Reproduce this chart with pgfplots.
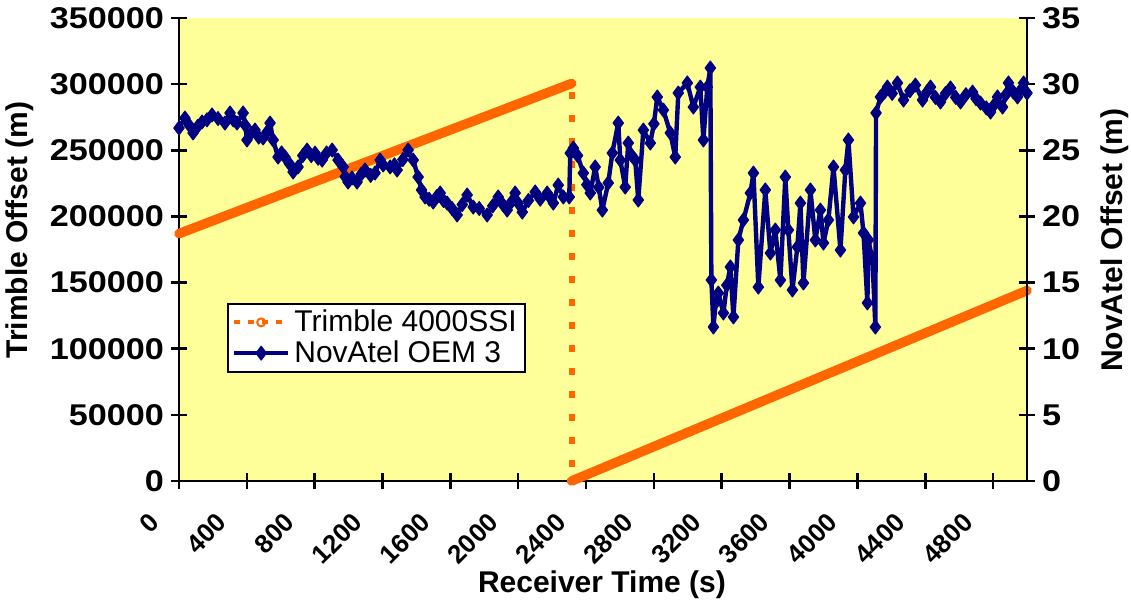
\documentclass[border=0pt]{standalone}
\usepackage{fontspec}
\setmainfont{Liberation Sans}
\newfontfamily\tickfont{Liberation Sans}[FakeStretch=1.14]
\usepackage{pgfplots}
\pgfplotsset{compat=1.18}
\definecolor{bgyellow}{RGB}{255,255,153}
\definecolor{trim}{RGB}{255,102,0}
\definecolor{nova}{RGB}{0,0,128}

\pgfplotstableread{
x y
0 26.68
35 27.44
60 26.9
83 26.31
110 26.8
136 27.14
165 27.3
195 27.67
230 27.4
271 27.06
301 27.82
320 27.3
342 27.06
378 27.82
390 26.9
401 25.78
425 26.3
448 26.53
470 26.0
496 25.93
520 26.4
537 27.06
555 25.78
584 24.49
605 24.8
625 24.49
650 24.0
673 23.36
702 23.74
730 24.6
755 25.02
780 24.6
802 24.79
820 24.4
844 24.26
870 24.8
903 25.02
938 24.26
968 23.74
980 23.0
997 22.60
1020 22.9
1050 22.60
1075 23.2
1097 23.51
1130 23.1
1156 23.28
1186 24.26
1204 23.89
1245 23.74
1270 23.9
1286 23.51
1320 24.3
1351 25.02
1381 24.26
1410 22.98
1430 22.0
1451 21.47
1475 21.3
1499 21.09
1520 21.5
1540 21.77
1560 21.2
1581 21.01
1610 20.6
1640 20.11
1670 20.9
1699 21.62
1735 20.71
1770 20.6
1817 20.11
1850 20.8
1882 21.47
1910 20.9
1935 20.48
1960 21.1
1982 21.77
2000 21.0
2024 20.33
2060 21.2
2100 21.85
2130 21.3
2171 21.77
2190 21.4
2207 21.01
2236 22.37
2266 21.47
2301 21.47
2307 24.79
2325 25.17
2350 24.6
2384 23.28
2405 22.4
2425 21.77
2454 23.74
2475 22.2
2496 20.48
2531 22.53
2555 24.79
2590 27.06
2602 24.26
2631 22.22
2649 25.55
2670 24.6
2690 24.26
2708 21.24
2738 26.53
2779 25.55
2800 27.0
2820 29.03
2856 28.04
2897 26.31
2926 24.49
2944 29.33
2997 30.09
3033 28.27
3074 29.78
3092 25.78
3115 29.78
3133 31.22
3139 15.19
3151 11.64
3165 13.5
3180 14.21
3210 12.70
3230 14.8
3251 16.18
3269 12.40
3298 18.22
3328 19.73
3369 21.77
3387 23.28
3416 14.66
3457 22.00
3487 17.23
3516 18.97
3546 15.19
3575 22.98
3593 18.97
3617 14.44
3646 17.69
3664 21.01
3682 14.97
3723 22.00
3752 18.22
3782 20.48
3800 17.99
3829 19.73
3859 23.74
3900 17.46
3929 23.51
3947 25.78
3977 19.96
4018 21.01
4036 18.75
4059 13.46
4065 18.22
4089 16.71
4106 11.64
4110 27.82
4136 29.03
4160 29.4
4177 29.78
4205 29.3
4236 30.09
4272 28.80
4310 29.5
4342 29.93
4384 28.80
4410 29.4
4431 29.78
4460 29.0
4490 28.65
4520 29.3
4549 29.71
4580 29.0
4608 28.65
4640 29.2
4679 29.40
4700 28.9
4726 28.57
4760 28.2
4785 27.89
4810 28.5
4826 29.03
4856 28.27
4875 29.2
4891 30.09
4920 29.4
4944 29.03
4965 29.6
4980 30.09
5000 29.33
}\novatel

\begin{document}
\begin{tikzpicture}
\pgfplotsset{
 every axis/.append style={
  width=424pt, height=231.5pt, scale only axis,
  xmin=0, xmax=5000,
  axis line style={line width=1.3pt},
  tick style={line width=1.3pt, black},
  major tick length=8pt,
  tick align=center,
  /pgf/number format/assume math mode=true,
  tick label style={font=\tickfont\fontsize{15}{18}\selectfont\bfseries},
  label style={font=\fontsize{15}{18}\selectfont\bfseries},
 }
}
\begin{axis}[
  axis background/.style={fill=bgyellow},
  clip=false,
  ymin=0, ymax=350000, ytick={0,50000,...,350000},
  scaled y ticks=false,
  yticklabel style={/pgf/number format/fixed, /pgf/number format/1000 sep={}, anchor=east},
  axis x line*=bottom, axis y line*=left,
  xtick={0,400,...,4800},
  xticklabel style={font=\fontsize{13}{16}\selectfont\bfseries, xshift=-10pt, yshift=-12pt, rotate=45, anchor=east, /pgf/number format/1000 sep={}},
  xlabel={Receiver Time (s)},
  xlabel style={at={(axis description cs:0.4988,-0.223)}, anchor=center},
  ylabel={Trimble Offset (m)},
  ylabel style={at={(axis description cs:-0.1875,0.542)}, anchor=center},
]
\addplot[trim, line width=4.8pt, line cap=round] coordinates {(0,187000) (2315,300500)};
\addplot[trim, line width=3pt, dash pattern=on 3.5pt off 8pt] coordinates {(2315,294000) (2315,0)};
\addplot[trim, line width=4.8pt, line cap=round] coordinates {(2315,0) (5000,144000)};
\end{axis}
\begin{axis}[
  ymin=0, ymax=35, ytick={0,5,...,35},
  axis y line*=right, hide x axis,
  yticklabel style={anchor=west},
  ylabel={NovAtel Offset (m)},
  ylabel style={at={(axis description cs:1.1038,0.5205)}, anchor=center},
  legend style={at={(axis description cs:0.0566,0.3844)}, anchor=north west,
    draw=black, line width=1pt, fill=white, font=\fontsize{15}{18}\selectfont,
    inner xsep=2pt, inner ysep=1pt, row sep=-1pt},
  legend cell align=left,
  legend image code/.code={\draw[mark repeat=2,mark phase=2,#1] plot coordinates {(0pt,0pt) (13.5pt,0pt) (27pt,0pt)};},
]
\addlegendimage{trim, line width=2pt, dash pattern=on 3pt off 4pt, mark=o, mark size=2pt, mark options={solid, fill=white, line width=1pt}}
\addlegendentry{Trimble 4000SSI}
\addplot[nova, line width=2.2pt, line join=round, mark=diamond*, mark size=3.5pt, mark options={line width=0.5pt}] table {\novatel};
\addlegendentry{NovAtel OEM 3}
\end{axis}
\pgfresetboundingbox
\path (-89.5pt,-60pt) rectangle (476pt,240.5pt);
\end{tikzpicture}
\end{document}
